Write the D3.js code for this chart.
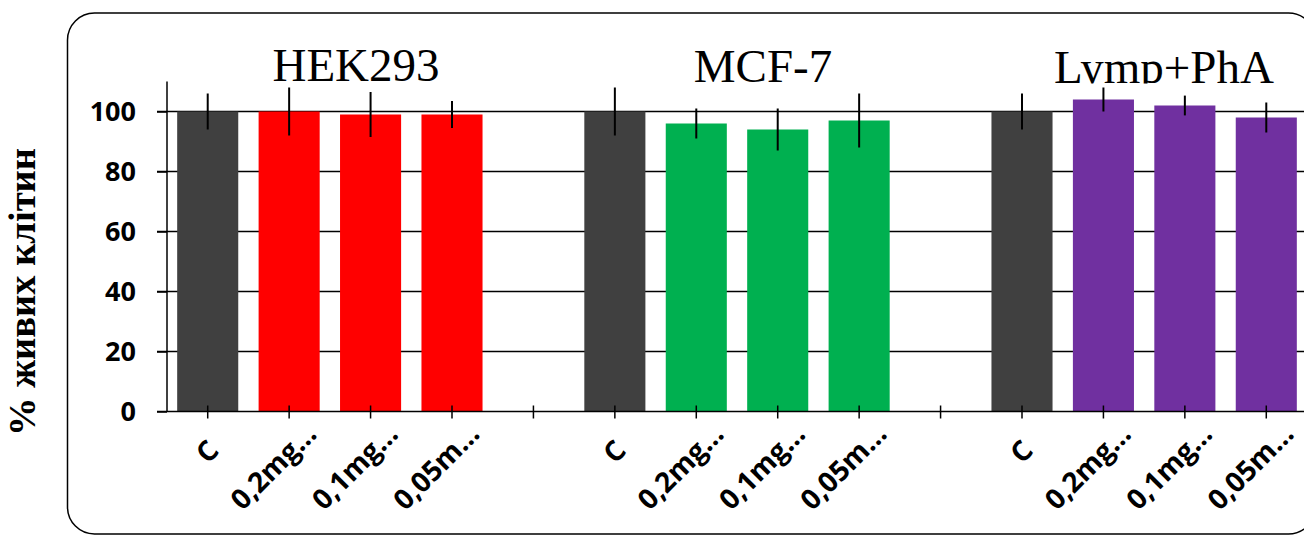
<!DOCTYPE html>
<html>
<head>
<meta charset="utf-8">
<script src="https://cdn.jsdelivr.net/npm/d3@7"></script>
<style>
  body { margin: 0; background: #fff; }
  svg { display: block; }
</style>
</head>
<body>
<div class="chartWrapper"></div>
<script>
const width = 1304, height = 535;

// data
const groups = ["HEK293", "MCF-7", "Lymp+PhA"];
const doses = ["C", "0,2mg…", "0,1mg…", "0,05m…"];
const hekValues = [100, 100, 99, 99];
const hekErrors = [6, 8, 7.5, 4.5];
const mcfValues = [100, 96, 94, 97];
const mcfErrors = [8, 5, 7, 9];
const lympValues = [100, 104, 102, 98];
const lympErrors = [6, 4, 3.3, 5];
const groupColors = ["#FF0000", "#00B050", "#7030A0"];
const controlColor = "#404040";
const yTicks = [0, 20, 40, 60, 80, 100];

const seriesValues = [hekValues, mcfValues, lympValues];
const seriesErrors = [hekErrors, mcfErrors, lympErrors];

// flatten into a category list, with an empty slot between groups
const rows = [];
groups.forEach((g, gi) => {
  doses.forEach((d, di) => {
    rows.push({
      id: g + "-" + di,
      label: d,
      value: seriesValues[gi][di],
      err: seriesErrors[gi][di],
      color: di === 0 ? controlColor : groupColors[gi]
    });
  });
  if (gi < groups.length - 1) rows.push({ id: "gap" + gi, label: "", value: null });
});

const svg = d3.select(".chartWrapper").append("svg")
  .attr("width", width)
  .attr("height", height);

// outer rounded frame
svg.append("rect")
  .attr("x", 67.5).attr("y", 13)
  .attr("width", 1248).attr("height", 521)
  .attr("rx", 27).attr("ry", 27)
  .attr("fill", "none")
  .attr("stroke", "#000")
  .attr("stroke-width", 1.5);

const x = d3.scaleBand()
  .domain(rows.map(r => r.id))
  .range([167, 1307])
  .paddingInner(0.25)
  .paddingOuter(0.125);

const y = d3.scaleLinear()
  .domain([0, 110])
  .range([411.5, 81.5]);

// group titles (clipped at the top of the plot like the original)
svg.append("clipPath").attr("id", "titleClip")
  .append("rect").attr("x", 0).attr("y", 0).attr("width", width).attr("height", 83.5);

const titleX = [356, 763, 1164];
const titleY = [81, 82, 83];
svg.append("g").attr("clip-path", "url(#titleClip)")
  .selectAll("text")
  .data(groups)
  .join("text")
  .attr("x", (d, i) => titleX[i])
  .attr("y", (d, i) => titleY[i])
  .attr("text-anchor", "middle")
  .style("font-family", "'Liberation Serif', 'Times New Roman', serif")
  .style("font-size", "47px")
  .text(d => d);

// gridlines
svg.append("g")
  .selectAll("line")
  .data(yTicks.filter(t => t > 0))
  .join("line")
  .attr("x1", 157).attr("x2", width)
  .attr("y1", d => y(d)).attr("y2", d => y(d))
  .attr("stroke", "#000")
  .attr("stroke-width", 1.5);

// bars
const barRows = rows.filter(r => r.value !== null);
svg.append("g")
  .selectAll("rect")
  .data(barRows)
  .join("rect")
  .attr("x", d => x(d.id))
  .attr("width", x.bandwidth())
  .attr("y", d => y(d.value))
  .attr("height", d => y(0) - y(d.value))
  .attr("fill", d => d.color);

// error bars
svg.append("g")
  .selectAll("line")
  .data(barRows)
  .join("line")
  .attr("x1", d => x(d.id) + x.bandwidth() / 2)
  .attr("x2", d => x(d.id) + x.bandwidth() / 2)
  .attr("y1", d => y(d.value + d.err))
  .attr("y2", d => y(d.value - d.err))
  .attr("stroke", "#000")
  .attr("stroke-width", 2);

// y axis
const yAxis = svg.append("g")
  .attr("transform", "translate(167,0)")
  .call(d3.axisLeft(y).tickValues(yTicks).tickSize(10).tickPadding(21));
yAxis.select(".domain").remove();
yAxis.append("line")
  .attr("x1", 0).attr("x2", 0)
  .attr("y1", y(110)).attr("y2", y(0))
  .attr("stroke", "#000").attr("stroke-width", 1.5);
yAxis.selectAll(".tick line").attr("stroke", "#000").attr("stroke-width", 1.5);
yAxis.selectAll(".tick text")
  .attr("fill", "#000")
  .style("font-family", "'Open Sans', sans-serif")
  .style("font-weight", "bold")
  .style("font-size", "27px");

// x axis line + crossing ticks
svg.append("line")
  .attr("x1", 157).attr("x2", width)
  .attr("y1", y(0)).attr("y2", y(0))
  .attr("stroke", "#000").attr("stroke-width", 1.5);

svg.append("g")
  .selectAll("line")
  .data(rows)
  .join("line")
  .attr("x1", d => x(d.id) + x.bandwidth() / 2)
  .attr("x2", d => x(d.id) + x.bandwidth() / 2)
  .attr("y1", y(0) - 6).attr("y2", y(0) + 7)
  .attr("stroke", "#000").attr("stroke-width", 1.5);

// rotated category labels; short ones sit a bit nearer the tick, as in the original
svg.append("g")
  .selectAll("text")
  .data(rows.filter(r => r.label !== ""))
  .join("text")
  .attr("transform", d => `translate(${x(d.id) + x.bandwidth() / 2 + 2.5},448.5) rotate(-45)`)
  .attr("text-anchor", "middle")
  .attr("dy", "0.35em")
  .style("font-family", "'Open Sans', sans-serif")
  .style("font-weight", "bold")
  .style("font-size", "28px")
  .text(d => d.label)
  .each(function() {
    const len = this.getComputedTextLength();
    d3.select(this).attr("x", -0.24 * len);
  });

// y axis title
svg.append("text")
  .attr("transform", "translate(22,292) rotate(-90)")
  .attr("text-anchor", "middle")
  .attr("dy", "0.35em")
  .style("font-family", "'Liberation Serif', 'Times New Roman', serif")
  .style("font-weight", "bold")
  .style("font-size", "38.5px")
  .text("% живих клітин");
</script>
</body>
</html>
